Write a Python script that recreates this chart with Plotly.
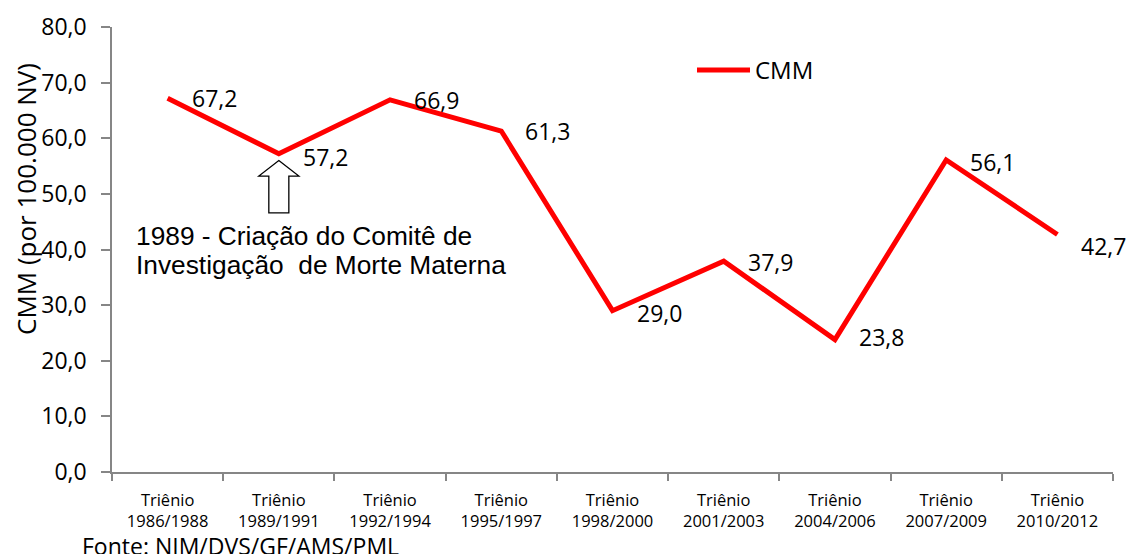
import plotly.graph_objects as go

periods = ["1986/1988", "1989/1991", "1992/1994", "1995/1997", "1998/2000",
           "2001/2003", "2004/2006", "2007/2009", "2010/2012"]
tick_labels = ["Triênio<br>" + p for p in periods]
cmm = [67.2, 57.2, 66.9, 61.3, 29.0, 37.9, 23.8, 56.1, 42.7]
label_yshift = [0, -3, 0, 0, -2, -1, 3, -2, -12]
y_ticks = [0, 10, 20, 30, 40, 50, 60, 70, 80]
series_name = "CMM"
note_lines = ["1989 - Criação do Comitê de", "Investigação  de Morte Materna"]

xs = list(range(len(periods)))
BODY = "Open Sans"

# plot area in pixels: x 112..1113, y 27..472
PL, PR, PT, PB = 112, 1113, 27, 472
def px(xp):
    return (xp - PL) / (PR - PL)
def py(yp):
    return (PB - yp) / (PB - PT)

fig = go.Figure()
fig.add_trace(go.Scatter(
    x=xs, y=cmm, mode="lines", name=series_name,
    line=dict(color="#FF0000", width=5), showlegend=False,
))

for x, v, dy in zip(xs, cmm, label_yshift):
    fig.add_annotation(
        x=x, y=v, xref="x", yref="y",
        text=f"{v:.1f}".replace(".", ","),
        showarrow=False, xanchor="left", yanchor="middle",
        xshift=22, yshift=dy,
        font=dict(family=BODY, size=23, color="#000000"),
    )

# block arrow pointing at the 1989/1991 point
ax = 1
hw, sw = 0.18, 0.09
tip, neck, base = 56.0, 53.2, 46.6
path = (f"M {ax} {tip} L {ax+hw} {neck} L {ax+sw} {neck} L {ax+sw} {base} "
        f"L {ax-sw} {base} L {ax-sw} {neck} L {ax-hw} {neck} Z")
fig.add_shape(type="path", path=path, xref="x", yref="y",
              line=dict(color="#000000", width=1.3), fillcolor="white")

for line_text, ypix in zip(note_lines, [236, 265]):
    fig.add_annotation(
        x=px(134), y=py(ypix), xref="paper", yref="paper",
        text=line_text, showarrow=False, xanchor="left", yanchor="middle",
        font=dict(family="Liberation Sans", size=26.3, color="#000000"),
    )

fig.add_annotation(
    x=px(26), y=py(199), xref="paper", yref="paper",
    text="CMM (por 100.000 NV)", textangle=-90, showarrow=False,
    xanchor="center", yanchor="middle",
    font=dict(family=BODY, size=26, color="#000000"),
)

fig.add_annotation(
    x=px(80), y=py(546), xref="paper", yref="paper",
    text="Fonte: NIM/DVS/GF/AMS/PML", showarrow=False,
    xanchor="left", yanchor="middle",
    font=dict(family=BODY, size=23, color="#000000"),
)

# legend (drawn manually)
fig.add_shape(type="line", xref="paper", yref="paper",
              x0=px(697), x1=px(750), y0=py(70), y1=py(70),
              line=dict(color="#FF0000", width=5))
fig.add_annotation(
    x=px(753), y=py(70), xref="paper", yref="paper",
    text=series_name, showarrow=False, xanchor="left", yanchor="middle",
    font=dict(family=BODY, size=24, color="#000000"),
)

fig.update_layout(
    width=1128, height=554,
    margin=dict(l=PL, r=1128 - PR, t=PT, b=554 - PB),
    paper_bgcolor="white", plot_bgcolor="white",
    separators=",.",
    showlegend=False,
    xaxis=dict(
        range=[-0.5, 8.5], tickmode="array", tickvals=xs, ticktext=tick_labels,
        ticks="", showgrid=False, zeroline=False, automargin=False,
        showline=True, linecolor="#868686", linewidth=1.5,
        tickfont=dict(family=BODY, size=16.5, color="#000000"),
        ticklabelstandoff=12,
        minor=dict(tickmode="array", tickvals=[i - 0.5 for i in range(len(xs) + 1)],
                   ticks="outside", ticklen=7, tickcolor="#868686", tickwidth=1.5,
                   showgrid=False),
    ),
    yaxis=dict(
        range=[0, 80], tickmode="array", tickvals=y_ticks, tickformat=".1f",
        ticks="outside", ticklen=9, tickcolor="#868686", tickwidth=1.5,
        showgrid=False, zeroline=False, automargin=False,
        showline=True, linecolor="#868686", linewidth=1.5,
        tickfont=dict(family=BODY, size=23, color="#000000"),
        ticklabelstandoff=10,
    ),
)

fig.write_html("out.html", config={"displayModeBar": False},
               post_script="document.body.style.margin='0';")
